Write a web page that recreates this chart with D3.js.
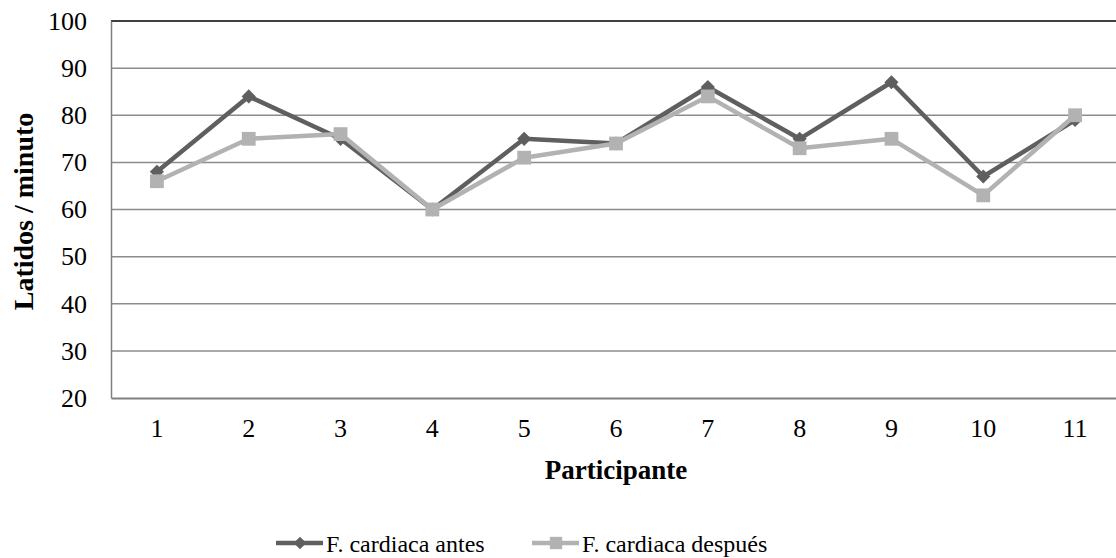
<!DOCTYPE html>
<html>
<head>
<meta charset="utf-8">
<script src="https://cdn.jsdelivr.net/npm/d3@7"></script>
<style>
  body { margin: 0; background: #fff; }
  svg text { font-family: "Liberation Serif", "DejaVu Serif", "Times New Roman", Times, serif !important; }
</style>
</head>
<body>
<div id="chart"></div>
<script>
// Data
let participantes = ["1", "2", "3", "4", "5", "6", "7", "8", "9", "10", "11"];
let antes = [68, 84, 75, 60, 75, 74, 86, 75, 87, 67, 79];
let despues = [66, 75, 76, 60, 71, 74, 84, 73, 75, 63, 80];
let yTicks = [20, 30, 40, 50, 60, 70, 80, 90, 100];

let svgWidth = 1116;
let svgHeight = 558;
let serif = "'Liberation Serif', 'DejaVu Serif', 'Times New Roman', serif";

let margin = { top: 21, right: -5, bottom: 160, left: 111 };
let width = svgWidth - margin.left - margin.right;
let height = svgHeight - margin.top - margin.bottom;

let svg = d3.select("#chart")
    .append("svg")
    .attr("width", svgWidth)
    .attr("height", svgHeight)
    .attr("font-family", serif);

let chartGroup = svg.append("g")
    .attr("transform", `translate(${margin.left}, ${margin.top})`);

let xScale = d3.scaleBand()
    .domain(participantes)
    .range([0, width]);

let yScale = d3.scaleLinear()
    .domain([20, 100])
    .range([height, 0]);

let xPos = d => xScale(d) + xScale.bandwidth() / 2;

// Gridlines
chartGroup.selectAll(".grid")
    .data(yTicks.filter(t => t > 20 && t < 100))
    .enter().append("line")
    .attr("x1", 0).attr("x2", width)
    .attr("y1", d => yScale(d)).attr("y2", d => yScale(d))
    .attr("stroke", "#8c8c8c")
    .attr("stroke-width", 1.5);

// Top border
chartGroup.append("line")
    .attr("x1", 0).attr("x2", width)
    .attr("y1", 0).attr("y2", 0)
    .attr("stroke", "#000")
    .attr("stroke-width", 1.5);

// Axes
let leftAxis = d3.axisLeft(yScale).tickValues(yTicks).tickSize(0).tickPadding(24);
let bottomAxis = d3.axisBottom(xScale).tickSize(0).tickPadding(21);

let yAxisG = chartGroup.append("g").call(leftAxis).attr("font-family", serif);
yAxisG.select(".domain").attr("stroke", "#808080").attr("stroke-width", 1.5);
yAxisG.selectAll("text").attr("font-size", 26).attr("fill", "#000");

let xAxisG = chartGroup.append("g")
    .attr("transform", `translate(0, ${height})`)
    .call(bottomAxis)
    .attr("font-family", serif);
xAxisG.select(".domain").attr("stroke", "#808080").attr("stroke-width", 2);
xAxisG.selectAll("text").attr("font-size", 26).attr("fill", "#000");

// Series
let series = [
    { name: "F. cardiaca antes", values: antes, color: "#5f5f5f", shape: d3.symbolSquare, rotate: 45, size: 100 },
    { name: "F. cardiaca después", values: despues, color: "#b2b2b2", shape: d3.symbolSquare, rotate: 0, size: 190 }
];

let line = d3.line()
    .x((d, i) => xPos(participantes[i]))
    .y(d => yScale(d));

series.forEach(s => {
    chartGroup.append("path")
        .datum(s.values)
        .attr("d", line)
        .attr("fill", "none")
        .attr("stroke", s.color)
        .attr("stroke-width", 4.5)
        .attr("stroke-linejoin", "round");

    chartGroup.selectAll(null)
        .data(s.values)
        .enter().append("path")
        .attr("d", d3.symbol().type(s.shape).size(s.size))
        .attr("transform", (d, i) => `translate(${xPos(participantes[i])}, ${yScale(d)}) rotate(${s.rotate})`)
        .attr("fill", s.color);
});

// Axis titles
svg.append("text")
    .attr("transform", `translate(33, ${margin.top + height / 2 + 2}) rotate(-90)`)
    .attr("text-anchor", "middle")
    .attr("font-size", 28)
    .attr("font-weight", "bold")
    .text("Latidos / minuto");

svg.append("text")
    .attr("x", 616)
    .attr("y", 479)
    .attr("text-anchor", "middle")
    .attr("font-size", 27)
    .attr("font-weight", "bold")
    .text("Participante");

// Legend
let legendX = [276, 532];
series.forEach((s, i) => {
    let g = svg.append("g").attr("transform", `translate(${legendX[i]}, 543)`);
    g.append("line")
        .attr("x1", 0).attr("x2", 47)
        .attr("stroke", s.color)
        .attr("stroke-width", 4.5);
    g.append("path")
        .attr("d", d3.symbol().type(s.shape).size(s.size * 0.8))
        .attr("transform", `translate(24, 0) rotate(${s.rotate})`)
        .attr("fill", s.color);
    g.append("text")
        .attr("x", 50)
        .attr("y", 9)
        .attr("font-size", 24)
        .text(s.name);
});
</script>
</body>
</html>
